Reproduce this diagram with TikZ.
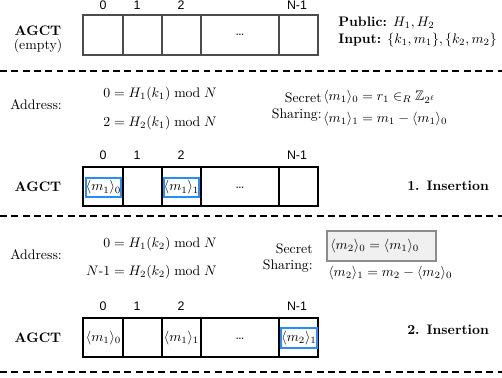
\documentclass[tikz,border=0pt]{standalone}
\usepackage{amsmath,amssymb}
\usepackage{fontspec}
\newfontfamily\idxfont{Liberation Sans}
\begin{document}
\begin{tikzpicture}[x=0.725pt,y=-0.725pt,
  cellline/.style={draw=black, line width=0.8pt},
  cellgray/.style={draw=black!70, line width=0.8pt},
  sepline/.style={line width=1.5pt, dash pattern=on 5pt off 3.2pt},
  idx/.style={font=\idxfont\small, inner sep=0pt},
  txt/.style={inner sep=0pt, font=\normalsize},
  bluebox/.style={draw={rgb,255:red,40;green,140;blue,255}, line width=0.9pt, fill=white},
  graybox/.style={draw=black!45, line width=0.8pt, fill=black!6}]
\useasboundingbox (0,0) rectangle (502,377);

% ---------- Section 1 ----------
\draw[cellgray] (83,15) rectangle (318,55);
\foreach \xx in {123,162,201,279} \draw[cellgray] (\xx,15) -- (\xx,55);
\node[idx] (i10) at (103,5) {0};
\node[idx] (i11) at (137,5) {1};
\node[idx] (i12) at (181,5) {2};
\node[idx] (i1n) at (297,5) {N-1};
\node[txt] (d1) at (240,35) {\ldots};
\node[txt] (agct1) at (38,31) {\textbf{AGCT}};
\node[txt] (empty) at (38,46) {(empty)};
\node[txt, anchor=west] (pub) at (338,23) {\textbf{Public:} $H_1, H_2$};
\node[txt, anchor=west] (inp) at (338,40) {\textbf{Input:} $\{k_1,m_1\},\{k_2,m_2\}$};
\draw[sepline] (0,71) -- (502,71);

% ---------- Section 2 ----------
\node[txt, anchor=west] (addr1) at (10,105) {Address:};
\node[txt, anchor=east] (e11) at (217,94) {$0 = H_1(k_1) \bmod N$};
\node[txt, anchor=east] (e12) at (217,123) {$2 = H_2(k_1) \bmod N$};
\node[txt, anchor=east, align=right] (ss1) at (322,107) {Secret\\[-1pt]Sharing:};
\node[txt, anchor=west] (s11) at (323,97) {$\langle m_1\rangle_0 = r_1 \in_R \mathbb{Z}_{2^\ell}$};
\node[txt, anchor=west] (s12) at (323,119) {$\langle m_1\rangle_1 = m_1 - \langle m_1\rangle_0$};

\draw[cellline] (83,167) rectangle (318,206);
\foreach \xx in {123,162,201,279} \draw[cellline] (\xx,167) -- (\xx,206);
\node[idx] (i20) at (103,155) {0};
\node[idx] (i21) at (137,155) {1};
\node[idx] (i22) at (181,155) {2};
\node[idx] (i2n) at (297,155) {N-1};
\draw[bluebox] (86,178) rectangle (121,197);
\node[txt] (b20) at (103.5,187.5) {$\langle m_1\rangle_0$};
\draw[bluebox] (164,178) rectangle (199,197);
\node[txt] (b22) at (181.5,187.5) {$\langle m_1\rangle_1$};
\node[txt] (d2) at (240,188) {\ldots};
\node[txt] (agct2) at (38,187) {\textbf{AGCT}};
\node[txt, anchor=west] (ins1) at (407,186) {\textbf{1. Insertion}};
\draw[sepline] (0,216) -- (502,216);

% ---------- Section 3 ----------
\node[txt, anchor=west] (addr2) at (10,255) {Address:};
\node[txt, anchor=east] (e21) at (217,244) {$0 = H_1(k_2) \bmod N$};
\node[txt, anchor=east] (e22) at (217,272) {$N\text{-}1 = H_2(k_2) \bmod N$};
\node[txt, anchor=east, align=right] (ss2) at (313,258) {Secret\\[-1pt]Sharing:};
\draw[graybox] (327,231) rectangle (436,261);
\node[txt, anchor=west] (s21) at (330,246) {$\langle m_2\rangle_0 = \langle m_1\rangle_0$};
\node[txt, anchor=west] (s22) at (328,273) {$\langle m_2\rangle_1 = m_2 - \langle m_2\rangle_0$};

\draw[cellline] (83,318) rectangle (318,357);
\foreach \xx in {123,162,201,279} \draw[cellline] (\xx,318) -- (\xx,357);
\node[idx] (i30) at (103,306) {0};
\node[idx] (i31) at (137,306) {1};
\node[idx] (i32) at (181,306) {2};
\node[idx] (i3n) at (297,306) {N-1};
\node[txt] (c30) at (103.5,338) {$\langle m_1\rangle_0$};
\node[txt] (c32) at (181.5,338) {$\langle m_1\rangle_1$};
\node[txt] (d3) at (240,339) {\ldots};
\draw[bluebox] (281,328) rectangle (317,348);
\node[txt] (b3n) at (299,338) {$\langle m_2\rangle_1$};
\node[txt] (agct3) at (38,338) {\textbf{AGCT}};
\node[txt, anchor=west] (ins2) at (407,330) {\textbf{2. Insertion}};
\draw[sepline] (0,372) -- (502,372);
\end{tikzpicture}
\end{document}
